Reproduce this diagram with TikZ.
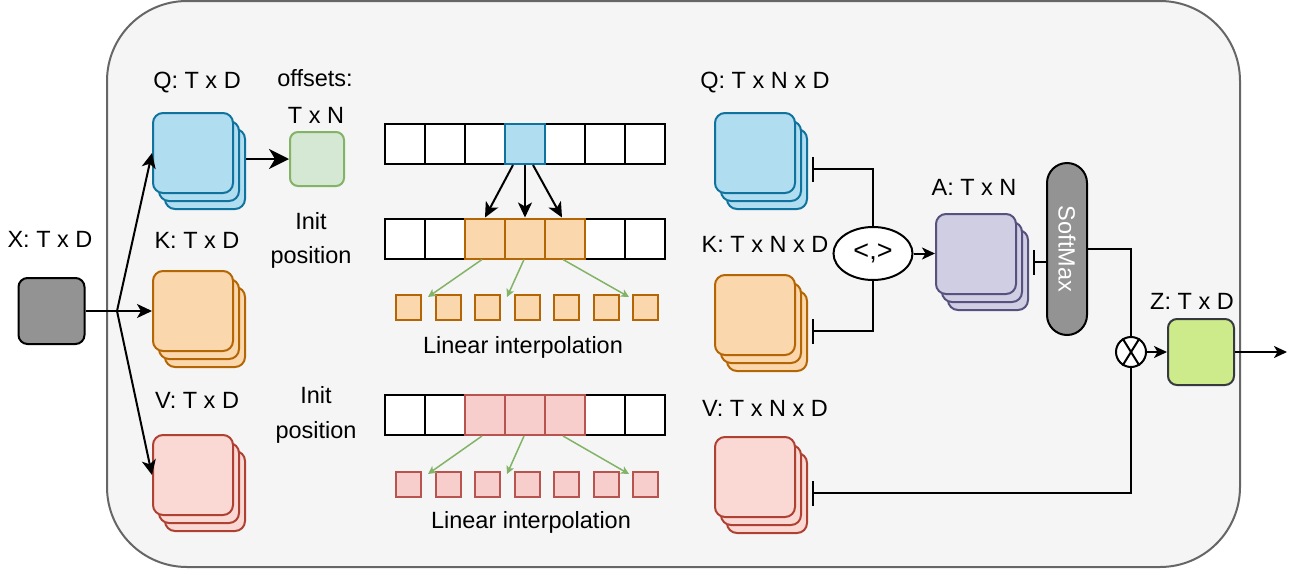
\documentclass[tikz,border=0pt]{standalone}
\usepackage{fontspec}
\setmainfont{Liberation Sans}
\usetikzlibrary{arrows.meta,shapes.geometric,calc}
\definecolor{contfill}{HTML}{F5F5F5}
\definecolor{contdraw}{HTML}{666666}
\definecolor{qfill}{HTML}{B1DDF0}
\definecolor{qdraw}{HTML}{10739E}
\definecolor{kfill}{HTML}{FAD7AC}
\definecolor{kdraw}{HTML}{B46504}
\definecolor{vfill}{HTML}{FAD9D5}
\definecolor{vdraw}{HTML}{AE4132}
\definecolor{rfill}{HTML}{F8CECC}
\definecolor{rdraw}{HTML}{B85450}
\definecolor{gfill}{HTML}{D5E8D4}
\definecolor{gdraw}{HTML}{82B366}
\definecolor{afill}{HTML}{D0CEE2}
\definecolor{adraw}{HTML}{56517E}
\definecolor{zfill}{HTML}{CDEB8B}
\definecolor{zdraw}{HTML}{36393D}
\definecolor{grayfill}{HTML}{939393}
\newcommand{\mystack}[4]{%
  \node[layer,#4] (#1-2) at ({#2+12},{#3+16}) {};
  \node[layer,#4] (#1-1) at ({#2+6},{#3+8}) {};
  \node[layer,#4] (#1) at (#2,#3) {};}
\tikzset{
  layer/.style={draw, rounded corners=10pt, minimum width=80pt, minimum height=80pt, line width=2pt, inner sep=0pt},
  qst/.style={fill=qfill, draw=qdraw},
  kst/.style={fill=kfill, draw=kdraw},
  vst/.style={fill=vfill, draw=vdraw},
  ast/.style={fill=afill, draw=adraw},
  cell/.style={draw=black, fill=white, line width=2pt, minimum size=40pt, inner sep=0pt},
  small/.style={line width=2pt, minimum size=25pt, inner sep=0pt},
  lbl/.style={inner sep=0pt},
  arr/.style={line width=2pt, -{Stealth[length=15pt,width=14pt,inset=4pt]}},
  bigarr/.style={line width=2pt, -{Stealth[length=20pt,width=20pt,inset=6pt]}},
  smarr/.style={line width=2pt, -{Stealth[length=13pt,width=12pt,inset=3.5pt]}},
  garr/.style={line width=1.5pt, draw=gdraw, -{Stealth[length=8pt,width=8pt,inset=2pt]}},
  tee/.style={line width=2pt, {Bar[width=25pt]}-},
  conn/.style={line width=2pt},
}
\begin{document}
\begin{tikzpicture}[x=1pt,y=-1pt, font=\fontsize{23.5}{28}\selectfont]
\useasboundingbox (0,0) rectangle (1291,573);
% container
\draw[line width=2pt, draw=contdraw, fill=contfill, rounded corners=80pt] (107,1) rectangle (1240,567);

% X input
\node[draw, fill=grayfill, line width=2pt, rounded corners=9pt, minimum size=66pt, inner sep=0pt] (X) at (51.5,311) {};
\node[lbl] (Xl) at (50,239) {X: T x D};

% left stacks
\mystack{Q}{193}{153}{qst}
\mystack{K}{193}{311}{kst}
\mystack{V}{193}{475}{vst}
\node[lbl] (Ql) at (197,83) {Q: T x D};
\node[lbl] (Kl) at (197,240) {K: T x D};
\node[lbl] (Vl) at (197,400) {V: T x D};

% offsets
\node[draw=gdraw, fill=gfill, line width=2pt, rounded corners=8pt, minimum size=54pt, inner sep=0pt] (G) at (317,159) {};
\node[lbl] (Ol1) at (315,78) {offsets:};
\node[lbl] (Ol2) at (316,115) {T x N};
\node[lbl] (I1a) at (311,221) {Init};
\node[lbl] (I1b) at (311,257) {position};
\node[lbl] (I2a) at (316,395) {Init};
\node[lbl] (I2b) at (316,432) {position};

% branch from X
\coordinate (br) at (117,311);
\draw[conn] (X.east) -- (br);
\draw[arr] (br) -- (Q.west);
\draw[arr] (br) -- (K.west);
\draw[arr] (br) -- (V.west);
\draw[bigarr] (Q-2.east |- G.west) -- (G.west);

% top row
\foreach \i in {1,2,3,5,6,7} {\node[cell] (t\i) at ({365+40*\i},144) {};}
\node[cell, fill=qfill, draw=qdraw] (t4) at (525,144) {};
% middle row
\foreach \i in {1,2,6,7} {\node[cell] (m\i) at ({365+40*\i},238.5) {};}
\foreach \i in {3,4,5} {\node[cell, fill=kfill, draw=kdraw] (m\i) at ({365+40*\i},238.5) {};}
% bottom row
\foreach \i in {1,2,6,7} {\node[cell] (b\i) at ({365+40*\i},415) {};}
\foreach \i in {3,4,5} {\node[cell, fill=rfill, draw=rdraw] (b\i) at ({365+40*\i},415) {};}
% small squares
\foreach \i in {1,...,7} {
  \node[small, fill=kfill, draw=kdraw] (s\i) at ({369+39.5*\i},307.5) {};
  \node[small, fill=rfill, draw=rdraw] (r\i) at ({369+39.5*\i},484.5) {};
}
% arrows from blue cell
\draw[arr] ([xshift=-12pt]t4.south) -- (m3.north);
\draw[arr] (t4.south) -- (m4.north);
\draw[arr] ([xshift=8pt]t4.south) -- ([xshift=-3pt]m5.north);
% green interpolation arrows
\draw[garr] ([xshift=-3pt]m3.south) -- ($(s1.north east)+(6,3)$);
\draw[garr] ([xshift=-1pt]m4.south) -- ($(s3.north east)+(6,3)$);
\draw[garr] ([xshift=-2pt]m5.south) -- ($(s7.north west)+(-3,3)$);
\draw[garr] ([xshift=-3pt]b3.south) -- ($(r1.north east)+(6,3)$);
\draw[garr] ([xshift=-1pt]b4.south) -- ($(r3.north east)+(6,3)$);
\draw[garr] ([xshift=-2pt]b5.south) -- ($(r7.north west)+(-3,3)$);
\node[lbl] (L1) at (523,347) {Linear interpolation};
\node[lbl] (L2) at (531,522) {Linear interpolation};

% right stacks
\mystack{QR}{755}{153}{qst}
\mystack{KR}{755}{315}{kst}
\mystack{VR}{755}{477}{vst}
\node[lbl] (QRl) at (765,83) {Q: T x N x D};
\node[lbl] (KRl) at (765,244) {K: T x N x D};
\node[lbl] (VRl) at (765,408) {V: T x N x D};

% inner product
\node[ellipse, draw, fill=white, line width=2pt, minimum width=79pt, minimum height=53pt, inner sep=0pt, font=\fontsize{27}{30}\selectfont] (E) at (873,253.5) {<,>};
\draw[tee] ([xshift=4pt]QR-2.east) -| (E.north);
\draw[tee] ([xshift=4pt]KR-2.east) -| (E.south);

% attention
\mystack{A}{976}{254}{ast}
\node[lbl] (Al) at (974,187) {A: T x N};
\draw[smarr] (E.east) -- (A.west |- E.east);

% softmax
\node[draw, fill=grayfill, line width=2pt, rounded corners=20pt, minimum width=40pt, minimum height=172pt, inner sep=0pt] (SM) at (1067,249) {};
\node[lbl, text=white, rotate=-90] (SMt) at (SM.center) {SoftMax};
\draw[tee] ([xshift=4pt]A-2.east |- A-1.east) -- (SM.west |- A-1.east);

% multiply
\node[circle, draw, fill=white, line width=2pt, minimum size=30pt, inner sep=0pt] (M) at (1131,352) {};
\draw[line width=2pt] (M.58) -- (M.238);
\draw[line width=2pt] (M.122) -- (M.302);
\draw[conn] (SM.east) -| (M.north);
\draw[tee] ([xshift=4pt]VR-2.east) -| (M.south);

% output
\node[draw=zdraw, fill=zfill, line width=2pt, rounded corners=9pt, minimum size=66pt, inner sep=0pt] (Z) at (1201,352) {};
\node[lbl] (Zl) at (1192,301) {Z: T x D};
\draw[smarr] (M.east) -- (Z.west);
\coordinate (out) at (1287,352);
\draw[smarr] (Z.east) -- (out);
\end{tikzpicture}
\end{document}
